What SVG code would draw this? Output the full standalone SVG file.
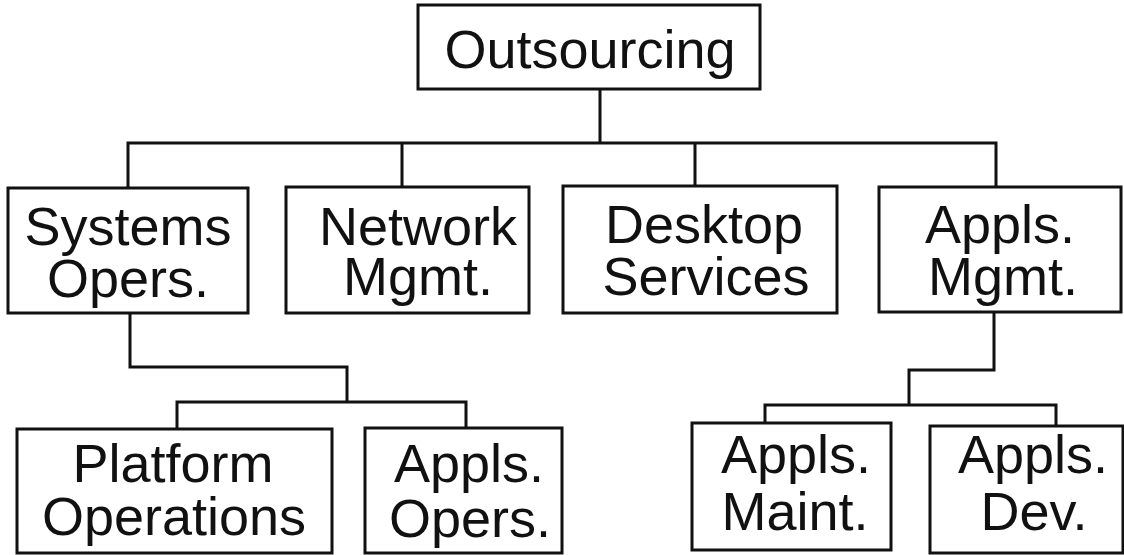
<svg xmlns="http://www.w3.org/2000/svg" width="1124" height="555" viewBox="0 0 1124 555">
<style>
rect{fill:#fff;stroke:#111;stroke-width:3}
.c{fill:none;stroke:#111;stroke-width:3;stroke-linejoin:miter}
text{font-family:"Liberation Sans",Arial,sans-serif;font-size:54px;fill:#111;text-anchor:middle}
</style>
<rect x="0" y="0" width="1124" height="555" style="stroke:none"/>
<g id="connectors">
<path class="c" d="M600,89V143M128,188V143H996V187M402,143V187M695,143V186"/>
<path class="c" d="M130,313V367H347V402M177,429V402H466V428"/>
<path class="c" d="M994,312V370H909V405M765,423V405H1056V426"/>
</g>
<g id="outsourcing"><rect x="418" y="5" width="342" height="84"/><text x="590" y="68">Outsourcing</text></g>
<g id="systems"><rect x="8" y="188" width="240" height="125"/><text x="128" y="245">Systems</text><text x="128" y="297">Opers.</text></g>
<g id="network"><rect x="286" y="187" width="243" height="126"/><text x="418" y="245">Network</text><text x="418" y="295">Mgmt.</text></g>
<g id="desktop"><rect x="563" y="186" width="274" height="127"/><text x="704" y="243">Desktop</text><text x="706" y="295">Services</text></g>
<g id="applsmgmt"><rect x="879" y="187" width="242" height="125"/><text x="1000" y="243">Appls.</text><text x="1003" y="295">Mgmt.</text></g>
<g id="platform"><rect x="17" y="429" width="315" height="124"/><text x="173" y="482">Platform</text><text x="174" y="535">Operations</text></g>
<g id="applsopers"><rect x="365" y="428" width="197" height="125"/><text x="469" y="482">Appls.</text><text x="470" y="537">Opers.</text></g>
<g id="maint"><rect x="692" y="423" width="199" height="127"/><text x="796" y="473">Appls.</text><text x="795" y="530">Maint.</text></g>
<g id="dev"><rect x="930" y="426" width="193" height="127"/><text x="1033" y="473">Appls.</text><text x="1034" y="530">Dev.</text></g>
</svg>
